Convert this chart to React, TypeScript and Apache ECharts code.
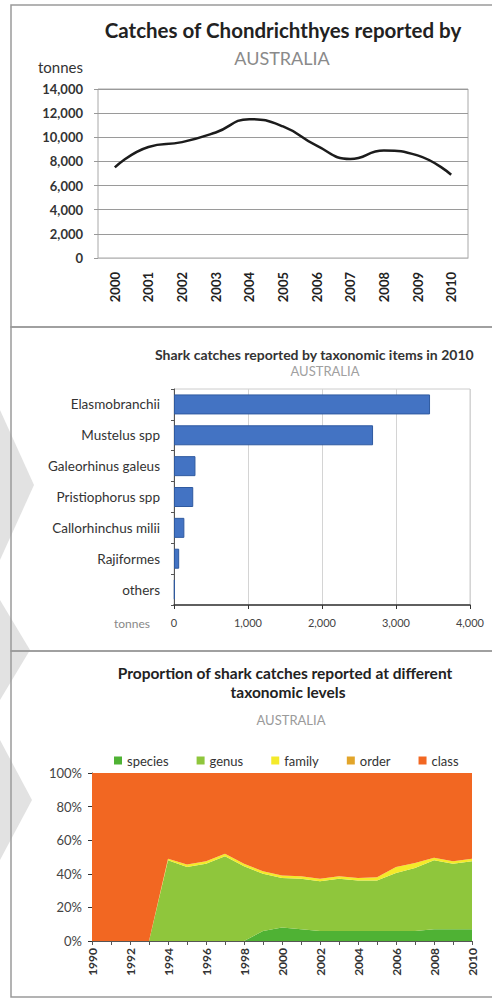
import React, { useEffect, useRef } from "react";
import * as echarts from "echarts";

// Panel 1: total catches
const years1 = ["2000", "2001", "2002", "2003", "2004", "2005", "2006", "2007", "2008", "2009", "2010"];
const catches = [7500, 9200, 9600, 10400, 11500, 10900, 9300, 8200, 8900, 8500, 6900];
const yTicks1 = [0, 2000, 4000, 6000, 8000, 10000, 12000, 14000];

// Panel 2: catches by taxonomic item 2010
const taxa = ["Elasmobranchii", "Mustelus spp", "Galeorhinus galeus", "Pristiophorus spp", "Callorhinchus milii", "Rajiformes", "others"];
const taxaCatch = [3460, 2690, 290, 260, 140, 70, 10];

// Panel 3: proportion by taxonomic level
const years3 = ["1990", "1991", "1992", "1993", "1994", "1995", "1996", "1997", "1998", "1999", "2000", "2001", "2002", "2003", "2004", "2005", "2006", "2007", "2008", "2009", "2010"];
const levelNames = ["species", "genus", "family", "order", "class"];
const species = [0, 0, 0, 0, 0, 0, 0, 0, 0, 6, 8, 7, 6, 6, 6, 6, 6, 6, 7, 7, 7];
const genus = [0, 0, 0, 0, 48, 44, 46, 50.5, 44.5, 34, 29.5, 30, 29.5, 31, 30, 30, 34.5, 37.5, 41, 39, 40.5];
const family = [0, 0, 0, 0, 1, 1.5, 1.5, 1.5, 1.5, 1.5, 1.5, 1.5, 1.5, 1.5, 1.5, 2, 3.5, 3, 1.5, 1.5, 1.5];
const order = [0, 0, 0, 0, 0, 0, 0, 0, 0, 0, 0, 0, 0, 0, 0, 0, 0, 0, 0, 0, 0];
const klass = [100, 100, 100, 100, 51, 54.5, 52.5, 48, 54, 58.5, 61, 61.5, 63, 61.5, 62.5, 62, 56, 53.5, 50.5, 52.5, 51];
const levelColors = ["#4fb234", "#8fc63c", "#f4ea2a", "#e2a52a", "#f26722"];

const FONT = "Lato, 'Open Sans', sans-serif";

function txt(text: string, x: number, y: number, size: number, color: string, bold = false, align = "center") {
  return {
    type: "text",
    x,
    y,
    z: 10,
    style: {
      text,
      font: `${bold ? "bold " : ""}${size}px ${FONT}`,
      fill: color,
      align,
      verticalAlign: "middle",
      textAlign: align,
      textVerticalAlign: "middle",
    },
  };
}

export default function App() {
  const ref = useRef<HTMLDivElement>(null);
  useEffect(() => {
    if (!ref.current) return;
    const chart = echarts.init(ref.current, undefined, { renderer: "svg" });
    const fmt = (v: number) => v.toLocaleString("en-US");
    const levelData = [species, genus, family, order, klass];
    const option: any = {
      animation: false,
      backgroundColor: "#ffffff",
      textStyle: { fontFamily: FONT },
      graphic: [
        { type: "polygon", z: -1, silent: true, shape: { points: [[0, 410], [34, 485], [0, 560]] }, style: { fill: "#e2e2e2" } },
        { type: "polygon", z: -1, silent: true, shape: { points: [[0, 600], [30, 650], [0, 700]] }, style: { fill: "#e2e2e2" } },
        { type: "polygon", z: -1, silent: true, shape: { points: [[0, 740], [32, 800], [0, 860]] }, style: { fill: "#e2e2e2" } },
        { type: "rect", z: 5, shape: { x: 11, y: 5, width: 520, height: 322 }, style: { fill: "none", stroke: "#9a9a9a", lineWidth: 1.5 } },
        { type: "rect", z: 5, shape: { x: 11, y: 327, width: 520, height: 324 }, style: { fill: "none", stroke: "#9a9a9a", lineWidth: 1.5 } },
        { type: "rect", z: 5, shape: { x: 11, y: 651, width: 520, height: 346 }, style: { fill: "none", stroke: "#9a9a9a", lineWidth: 1.5 } },
        txt("Catches of Chondrichthyes reported by", 283, 30, 20.5, "#222", true),
        txt("AUSTRALIA", 282, 58, 18, "#8a8a8a"),
        txt("tonnes", 38, 67, 15, "#333", false, "left"),
        txt("Shark catches reported by taxonomic items in 2010", 155, 354, 14, "#333", true, "left"),
        txt("AUSTRALIA", 325, 371, 13, "#a0a0a0"),
        txt("tonnes", 132, 623, 12, "#888"),
        txt("Proportion of shark catches reported at different", 285, 673, 15.5, "#222", true),
        txt("taxonomic levels", 288, 692, 15.5, "#222", true),
        txt("AUSTRALIA", 291, 720, 13, "#9a9a9a"),
      ],
      legend: {
        data: levelNames,
        left: 109,
        top: 749,
        icon: "rect",
        itemWidth: 8,
        itemHeight: 8,
        itemGap: 28,
        textStyle: { fontSize: 13, color: "#333" },
      },
      grid: [
        { left: 98, top: 89, width: 370, height: 169, show: true, borderColor: "#a8a8a8", borderWidth: 1 },
        { left: 174, top: 389, width: 296, height: 216, show: true, borderColor: "#cccccc", borderWidth: 1 },
        { left: 92, top: 773, width: 380, height: 168 },
      ],
      xAxis: [
        {
          gridIndex: 0,
          type: "category",
          data: years1,
          boundaryGap: true,
          axisLine: { lineStyle: { color: "#c0c0c0" } },
          axisTick: { show: false },
          axisLabel: { rotate: 90, fontSize: 13, fontWeight: "bold", color: "#222", margin: 14 },
        },
        {
          gridIndex: 1,
          type: "value",
          min: 0,
          max: 4000,
          interval: 1000,
          axisLine: { show: true, lineStyle: { color: "#333", width: 1.5 } },
          axisTick: { show: true, length: 4, lineStyle: { color: "#333" } },
          splitLine: { show: true, lineStyle: { color: "#d4d4d4" } },
          axisLabel: { formatter: fmt, fontSize: 11, color: "#444", margin: 12 },
        },
        {
          gridIndex: 2,
          type: "category",
          data: years3,
          boundaryGap: false,
          axisLine: { lineStyle: { color: "#555" } },
          axisTick: { show: true, interval: 0, length: 4, lineStyle: { color: "#555" } },
          axisLabel: { interval: 1, rotate: 90, fontSize: 12, fontWeight: "bold", color: "#333", margin: 7 },
        },
      ],
      yAxis: [
        {
          gridIndex: 0,
          type: "value",
          min: yTicks1[0],
          max: yTicks1[yTicks1.length - 1],
          interval: 2000,
          axisLine: { show: false },
          axisTick: { show: true, length: 4, lineStyle: { color: "#999" } },
          splitLine: { lineStyle: { color: "#9a9a9a" } },
          axisLabel: { formatter: fmt, fontSize: 13, fontWeight: "bold", color: "#333", margin: 15 },
        },
        {
          gridIndex: 1,
          type: "category",
          data: taxa,
          inverse: true,
          axisLine: { show: true, lineStyle: { color: "#555" } },
          axisTick: { show: true, length: 3, lineStyle: { color: "#555" } },
          axisLabel: { fontSize: 13.5, color: "#333", margin: 14 },
        },
        {
          gridIndex: 2,
          type: "value",
          min: 0,
          max: 100,
          interval: 20,
          axisLine: { show: true, lineStyle: { color: "#333" } },
          axisTick: { show: true, length: 4, lineStyle: { color: "#333" } },
          splitLine: { show: false },
          axisLabel: { formatter: "{value}%", fontSize: 13, color: "#444", margin: 10 },
        },
      ],
      series: [
        {
          type: "line",
          xAxisIndex: 0,
          yAxisIndex: 0,
          data: catches,
          smooth: 0.5,
          symbol: "none",
          lineStyle: { color: "#1c1c1c", width: 2.5 },
        },
        {
          type: "bar",
          xAxisIndex: 1,
          yAxisIndex: 1,
          data: taxaCatch,
          barWidth: 20,
          itemStyle: { color: "#4373c3", borderColor: "#2f5aa0", borderWidth: 1 },
        },
        ...levelNames.map((name, i) => ({
          name,
          type: "line",
          xAxisIndex: 2,
          yAxisIndex: 2,
          stack: "levels",
          data: levelData[i],
          symbol: "none",
          lineStyle: { width: 0, color: levelColors[i] },
          itemStyle: { color: levelColors[i] },
          areaStyle: { color: levelColors[i], opacity: 1 },
        })),
      ],
    };
    chart.setOption(option);
    return () => chart.dispose();
  }, []);
  return <div ref={ref} style={{ position: "absolute", left: 0, top: 0, width: 492, height: 1000 }} />;
}
